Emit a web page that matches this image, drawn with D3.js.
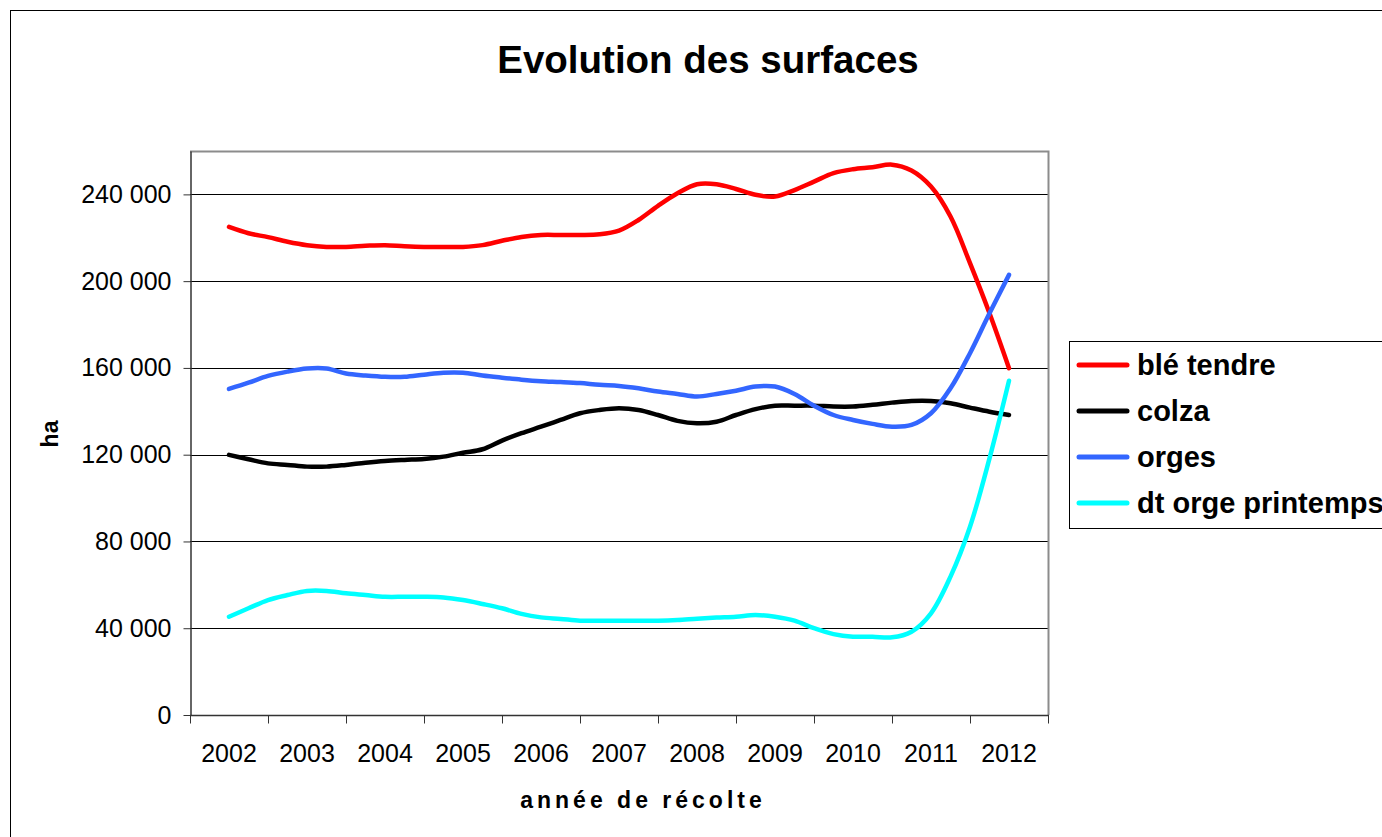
<!DOCTYPE html>
<html>
<head>
<meta charset="utf-8">
<script src="https://cdn.jsdelivr.net/npm/d3@7"></script>
<style>
  body { margin: 0; background: #fff; }
  svg { display: block; font-family: "Liberation Sans", Arial, sans-serif; }
</style>
</head>
<body>
<svg id="chart" width="1382" height="837"></svg>
<script>
// années affichées sur l'axe
const annees = [2002, 2003, 2004, 2005, 2006, 2007, 2008, 2009, 2010, 2011, 2012];

// points trimestriels
const trimestres = [
  2002, 2002.25, 2002.5, 2002.75, 2003, 2003.25, 2003.5, 2003.75,
  2004, 2004.25, 2004.5, 2004.75, 2005, 2005.25, 2005.5, 2005.75,
  2006, 2006.25, 2006.5, 2006.75, 2007, 2007.25, 2007.5, 2007.75,
  2008, 2008.25, 2008.5, 2008.75, 2009, 2009.25, 2009.5, 2009.75,
  2010, 2010.25, 2010.5, 2010.75, 2011, 2011.25, 2011.5, 2011.75, 2012
];

const bleTendre = [
  225000, 222100, 220300, 218200, 216600, 215800, 215800, 216300,
  216600, 216100, 215800, 215800, 215800, 216600, 218600, 220400,
  221300, 221300, 221300, 221600, 223300, 228200, 234700, 240500,
  244700, 244700, 242500, 239800, 239000, 242000, 245900, 249800,
  251600, 252500, 253700, 251000, 243600, 229800, 208300, 185200, 159900
];
const colza = [
  119900, 117900, 116000, 115300, 114500, 114500, 115300, 116300,
  117100, 117600, 118000, 119100, 120900, 122500, 126500, 129900,
  132900, 136000, 139100, 140600, 141400, 140600, 138300, 135600,
  134500, 135200, 138300, 141000, 142600, 142600, 142600, 142200,
  142200, 143000, 144000, 144800, 144800, 143700, 141700, 139800, 138300
];
const orges = [
  150300, 153200, 156300, 158300, 159700, 159700, 157400, 156500,
  155900, 155900, 156900, 157800, 157800, 156500, 155500, 154600,
  153900, 153500, 153000, 152200, 151700, 150600, 149100, 148000,
  146800, 148000, 149500, 151400, 151400, 148000, 142600, 138300,
  136000, 134200, 132900, 133700, 139100, 150600, 166800, 185200, 202900
];
const orgePrintemps = [
  45300, 49200, 53000, 55300, 57200, 57200, 56100, 55300,
  54500, 54500, 54500, 54200, 53000, 51200, 49200, 46600,
  45000, 44300, 43500, 43500, 43500, 43500, 43500, 43800,
  44400, 44900, 45300, 46100, 45300, 43500, 40000, 37300,
  36100, 36100, 35800, 38400, 46900, 63800, 86800, 118300, 154100
];

const seriesNames = ["blé tendre", "colza", "orges", "dt orge printemps"];
const seriesColors = ["#ff0000", "#000000", "#3366ff", "#00ffff"];
const seriesValues = [bleTendre, colza, orges, orgePrintemps];

const yTicks = [0, 40000, 80000, 120000, 160000, 200000, 240000];

const svg = d3.select("#chart");

// cadre extérieur
svg.append("rect")
  .attr("x", 10.5).attr("y", 10.5)
  .attr("width", 1500).attr("height", 1000)
  .attr("fill", "white").attr("stroke", "#000").attr("stroke-width", 1);

const plot = { left: 190, right: 1048, top: 151, bottom: 715 };

const x = d3.scaleLinear()
  .domain([annees[0] - 0.5, annees[annees.length - 1] + 0.5])
  .range([plot.left, plot.right]);

const y = d3.scaleLinear()
  .domain([0, 260000])
  .range([plot.bottom, plot.top]);

const fmt = v => d3.format(",")(v).replace(/,/g, " ");

// grille
svg.append("g")
  .selectAll("line")
  .data(yTicks.filter(d => d > 0))
  .enter().append("line")
  .attr("x1", plot.left).attr("x2", plot.right)
  .attr("y1", d => Math.round(y(d)) + 0.5).attr("y2", d => Math.round(y(d)) + 0.5)
  .attr("stroke", "#000").attr("stroke-width", 1);

// bordure de la zone de tracé
svg.append("path")
  .attr("d", `M${plot.left},${plot.top + 0.5}H${plot.right + 0.5}V${plot.bottom}`)
  .attr("fill", "none").attr("stroke", "#8c8c8c").attr("stroke-width", 2);

// axe Y
const yAxis = svg.append("g")
  .attr("transform", `translate(${plot.left + 0.5},0)`)
  .call(d3.axisLeft(y).tickValues(yTicks).tickSize(7).tickSizeOuter(0).tickFormat(fmt).tickPadding(12));
yAxis.select(".domain").attr("stroke", "#333").attr("stroke-width", 1.5);
yAxis.selectAll(".tick line").attr("stroke", "#333");
yAxis.selectAll("text").attr("font-size", 25).attr("fill", "#000")
  .attr("font-family", "Liberation Sans, Arial, sans-serif");

// axe X (catégories)
const bornes = annees.map(a => a - 0.5).concat([annees[annees.length - 1] + 0.5]);
const xAxisG = svg.append("g").attr("transform", `translate(0,${plot.bottom + 0.5})`);
xAxisG.append("line")
  .attr("x1", plot.left).attr("x2", plot.right + 1)
  .attr("stroke", "#333").attr("stroke-width", 1.5);
xAxisG.selectAll(".tk")
  .data(bornes)
  .enter().append("line")
  .attr("x1", d => Math.round(x(d)) + 0.5).attr("x2", d => Math.round(x(d)) + 0.5)
  .attr("y1", 0).attr("y2", 8)
  .attr("stroke", "#333");
xAxisG.selectAll("text")
  .data(annees)
  .enter().append("text")
  .attr("x", d => x(d))
  .attr("y", 46)
  .attr("text-anchor", "middle")
  .attr("font-size", 25)
  .text(d => d);

// courbes
const line = d3.line()
  .x((d, i) => x(trimestres[i]))
  .y(d => y(d))
  .curve(d3.curveCatmullRom.alpha(0.5));

seriesValues.forEach((vals, k) => {
  svg.append("path")
    .datum(vals)
    .attr("d", line)
    .attr("fill", "none")
    .attr("stroke", seriesColors[k])
    .attr("stroke-width", 4.5)
    .attr("stroke-linecap", "round")
    .attr("stroke-linejoin", "round");
});

// titres
svg.append("text")
  .attr("x", 708).attr("y", 73)
  .attr("text-anchor", "middle")
  .attr("font-size", 38.5).attr("font-weight", "bold")
  .text("Evolution des surfaces");

svg.append("text")
  .attr("x", 643).attr("y", 808)
  .attr("text-anchor", "middle")
  .attr("font-size", 23).attr("font-weight", "bold")
  .attr("letter-spacing", 4)
  .text("année de récolte");

svg.append("text")
  .attr("transform", "translate(58,434) rotate(-90)")
  .attr("text-anchor", "middle")
  .attr("font-size", 23).attr("font-weight", "bold")
  .text("ha");

// légende
const legend = svg.append("g");
legend.append("rect")
  .attr("x", 1069.5).attr("y", 341.5)
  .attr("width", 400).attr("height", 187)
  .attr("fill", "white").attr("stroke", "#000").attr("stroke-width", 1);

const rows = legend.selectAll(".row")
  .data(seriesNames)
  .enter().append("g")
  .attr("transform", (d, i) => `translate(0,${365 + i * 46})`);
rows.append("line")
  .attr("x1", 1079).attr("x2", 1127)
  .attr("stroke", (d, i) => seriesColors[i])
  .attr("stroke-width", 5)
  .attr("stroke-linecap", "round");
rows.append("text")
  .attr("x", 1137).attr("y", 10)
  .attr("font-size", 29).attr("font-weight", "bold")
  .text(d => d);
</script>
</body>
</html>
